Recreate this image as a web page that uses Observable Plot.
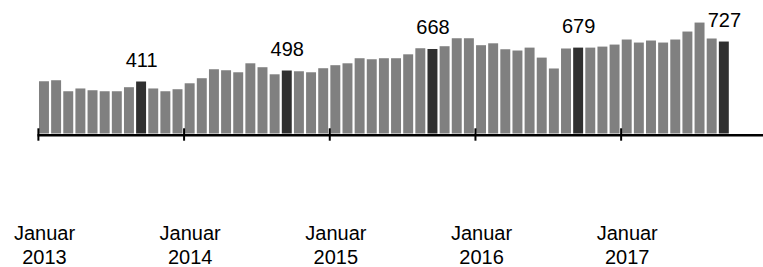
<!DOCTYPE html>
<html>
<head>
<meta charset="utf-8">
<script src="https://cdn.jsdelivr.net/npm/d3@7"></script>
<script src="https://cdn.jsdelivr.net/npm/@observablehq/plot@0.6"></script>
<style>
  html, body { margin: 0; padding: 0; background: #fff; }
  #chart svg { display: block; }
</style>
</head>
<body>
<div id="chart"></div>
<script>
// Monthly categories: Januar 2013 – September 2017
const months = d3.utcMonths(new Date(Date.UTC(2013, 0, 1)), new Date(Date.UTC(2017, 9, 1)))
  .map(d => d3.utcFormat("%Y-%m")(d));

// Values
const values = [
  413, 421, 334, 356, 342, 334, 334, 366, 411, 356, 334, 350,
  397, 437, 508, 500, 484, 555, 524, 468, 498, 492, 484, 516,
  540, 555, 595, 587, 595, 595, 626, 674, 668, 690, 753, 753,
  698, 713, 666, 656, 679, 600, 514, 672, 679, 679, 687, 703,
  743, 719, 735, 719, 743, 806, 877, 751, 727
];

// Highlighted (labelled) months
const highlightMonths = ["2013-09", "2014-09", "2015-09", "2016-09", "2017-09"];

// Axis ticks / labels
const tickMonths = ["2013-01", "2014-01", "2015-01", "2016-01", "2017-01"];
const tickWord = "Januar";

const data = months.map((m, i) => ({month: m, value: values[i], hi: highlightMonths.includes(m)}));

const step = 692 / months.length;

const chart = Plot.plot({
  width: 763,
  height: 267,
  marginLeft: 37.5,
  marginRight: 0,
  marginTop: 7,
  marginBottom: 133.5,
  style: {fontFamily: "'Liberation Sans', Arial, sans-serif", fontSize: "20px", background: "#fff", color: "#000"},
  x: {type: "band", domain: months, range: [37.9, 729.9], round: false, paddingInner: 0.18, paddingOuter: 0.09, axis: null},
  y: {domain: [0, 1000], axis: null},
  marks: [
    Plot.barY(data.filter(d => !d.hi), {x: "month", y: "value", fill: "#808080"}),
    Plot.barY(data.filter(d => d.hi), {x: "month", y: "value", fill: "#303030"}),
    Plot.ruleY([0], {stroke: "#000", strokeWidth: 2.6, dy: 1.3}),
    Plot.axisX({ticks: tickMonths, tickSize: 12.4, dy: -5.2, dx: -step / 2, stroke: "#000", strokeWidth: 2, fill: "none", label: null}),
    Plot.axisX({ticks: tickMonths, tickSize: 0, tickPadding: 88.5, lineHeight: 1.2, fontSize: 20, fill: "#000",
      tickFormat: d => tickWord + "\n" + d.slice(0, 4), label: null}),
    Plot.text(data.filter(d => d.hi), {x: "month", y: "value", text: d => String(d.value), dy: -15.5, lineAnchor: "bottom", fontSize: 20, fill: "#000"})
  ]
});

document.getElementById("chart").appendChild(chart);
</script>
</body>
</html>
